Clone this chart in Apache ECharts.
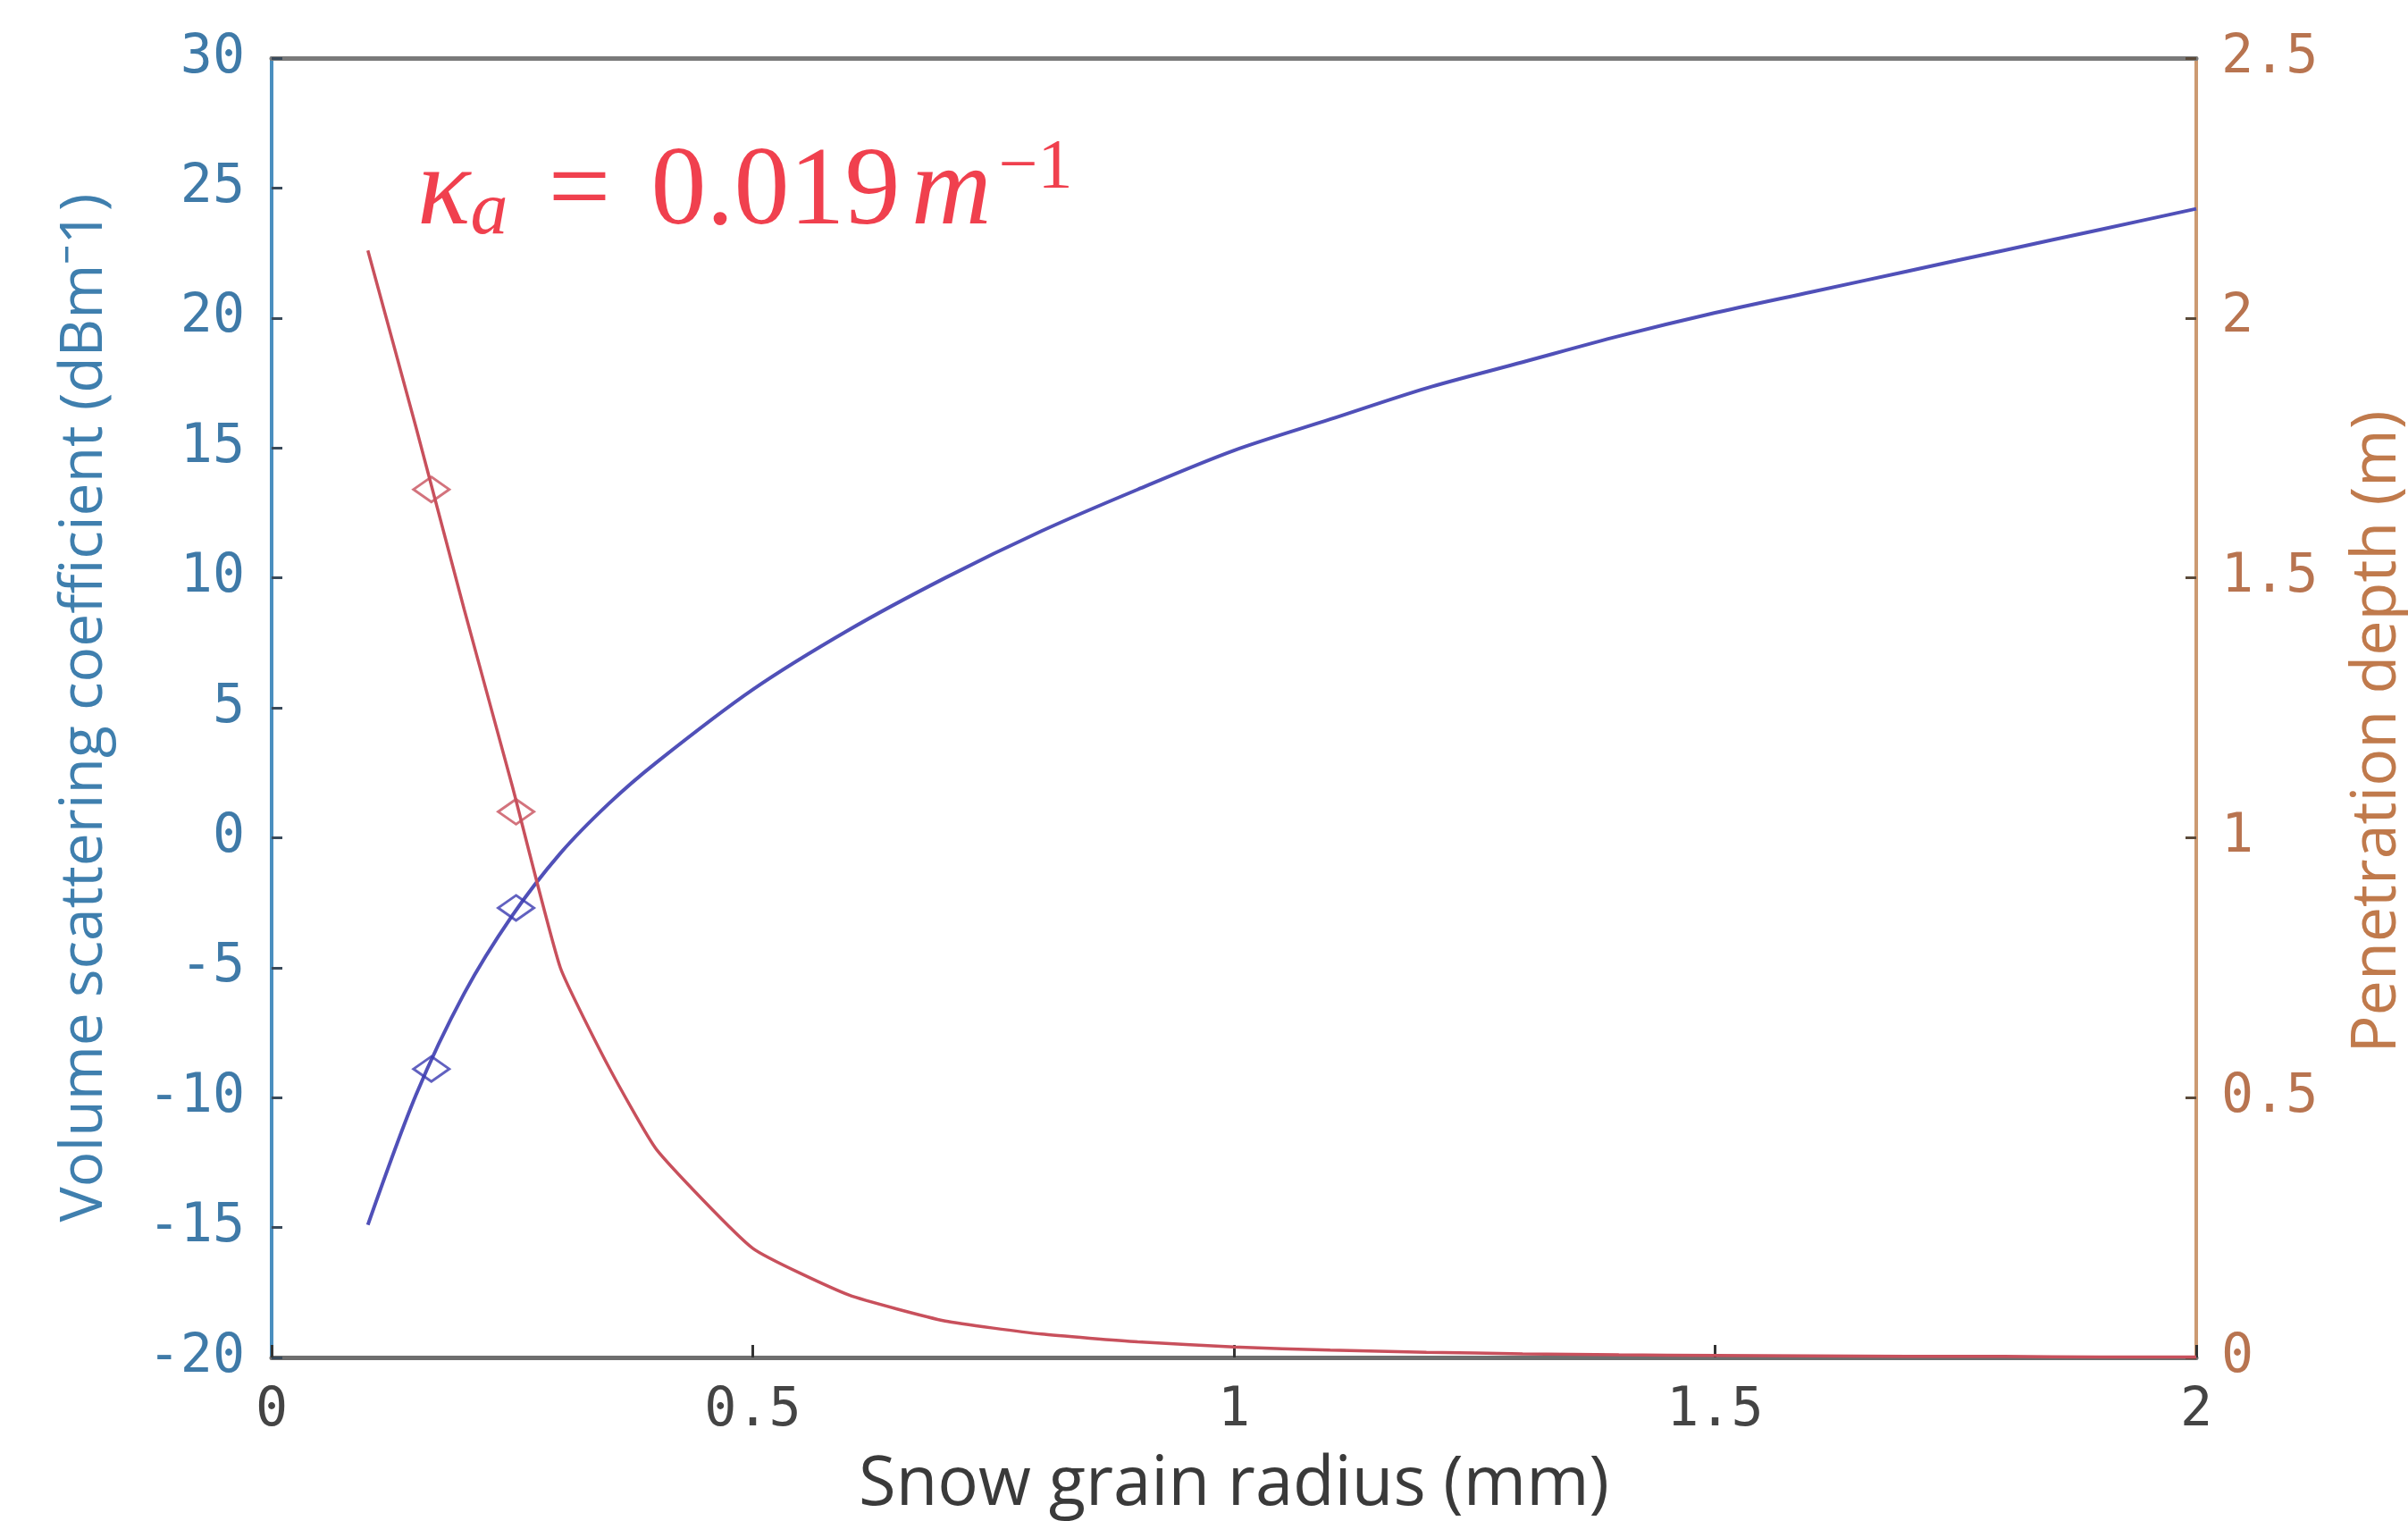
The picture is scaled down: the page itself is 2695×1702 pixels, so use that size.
<!DOCTYPE html>
<html>
<head>
<meta charset="utf-8">
<title>Snow grain radius vs scattering and penetration depth</title>
<script src="https://cdn.jsdelivr.net/npm/echarts@6/dist/echarts.min.js"></script>
<style>
  html, body { margin: 0; padding: 0; background: #ffffff; width: 100%; height: 100%; overflow: hidden; }
  #chart { width: 100vw; height: 100vh; }
</style>
</head>
<body>
<div id="chart"></div>
<script>
// Snow grain radius (mm)
const radius = [0.1, 0.15, 0.2, 0.25, 0.3, 0.35, 0.4, 0.5, 0.6, 0.7, 0.8, 0.9, 1.0,
                1.1, 1.2, 1.3, 1.4, 1.5, 1.6, 1.7, 1.8, 1.9, 2.0];
// Volume scattering coefficient (dB m^-1)
const scattering = [-14.9, -9.9, -6.0, -3.0, -0.6, 1.3, 2.9, 5.7, 8.0, 10.0, 11.8, 13.4, 14.9,
                    16.1, 17.3, 18.3, 19.3, 20.2, 21.0, 21.8, 22.6, 23.4, 24.2];
// Penetration depth (m)
const depth = [2.13, 1.79, 1.44, 1.10, 0.75, 0.56, 0.40, 0.21, 0.12, 0.07, 0.045, 0.03, 0.02,
               0.014, 0.01, 0.007, 0.005, 0.004, 0.003, 0.002, 0.002, 0.001, 0.001];
// Highlighted grain radii with their values on both curves
const markRadius = [0.166, 0.254];
const markScattering = [-8.9, -2.7];
const markDepth = [1.67, 1.05];

const xTicks = [0, 0.5, 1, 1.5, 2];

const pairs = (xs, ys) => xs.map((x, i) => [x, ys[i]]);

const tickFont = 'DejaVu Sans Mono';
const titleFont = 'Open Sans';
const chart = echarts.init(document.getElementById('chart'));

chart.setOption({
  backgroundColor: '#ffffff',
  animation: false,
  grid: { left: 304, right: 237, top: 65, bottom: 183, containLabel: false, outerBoundsMode: 'none' },
  xAxis: [{
    type: 'value', min: xTicks[0], max: xTicks[xTicks.length - 1], interval: 0.5,
    position: 'bottom',
    name: 'Snow grain radius (mm)', nameLocation: 'middle', nameGap: 105,
    nameTextStyle: { fontFamily: titleFont, fontSize: 76, color: '#3a3a3a' },
    axisLine: { show: true, onZero: false, lineStyle: { color: '#6e6e6e', width: 5 } },
    axisTick: { show: true, inside: true, length: 14, lineStyle: { color: '#333', width: 3 } },
    axisLabel: { fontFamily: tickFont, fontSize: 60, color: '#444', margin: 30 },
    splitLine: { show: false }
  }, {
    type: 'value', min: 0, max: 2, position: 'top',
    axisLine: { show: true, onZero: false, lineStyle: { color: '#7a7a7a', width: 5 } },
    axisTick: { show: false }, axisLabel: { show: false }, splitLine: { show: false }
  }],
  yAxis: [{
    type: 'value', min: -20, max: 30, interval: 5, position: 'left',
    name: 'Volume scattering coefficient (dBm\u207B1)', nameLocation: 'middle', nameGap: 176,
    nameTextStyle: { fontFamily: titleFont, fontSize: 66, color: '#3f7fae' },
    axisLine: { show: true, onZero: false, lineStyle: { color: '#4a8fbf', width: 4 } },
    axisTick: { show: true, inside: true, length: 12, lineStyle: { color: '#3a4a5a', width: 3 } },
    axisLabel: { fontFamily: tickFont, fontSize: 60, color: '#3f7aa8', margin: 30 },
    splitLine: { show: false }
  }, {
    type: 'value', min: 0, max: 2.5, interval: 0.5, position: 'right',
    name: 'Penetration depth (m)', nameLocation: 'middle', nameGap: 168, nameRotate: 90,
    nameTextStyle: { fontFamily: titleFont, fontSize: 70, color: '#c07a4c', padding: [0, 54, 0, 0] },
    axisLine: { show: true, onZero: false, lineStyle: { color: '#cc9a72', width: 4 } },
    axisTick: { show: true, inside: true, length: 12, lineStyle: { color: '#5a4a3a', width: 3 } },
    axisLabel: { fontFamily: tickFont, fontSize: 60, color: '#b87450', margin: 28 },
    splitLine: { show: false }
  }],
  series: [{
    name: 'Volume scattering coefficient',
    type: 'line', xAxisIndex: 0, yAxisIndex: 0,
    data: pairs(radius, scattering),
    smooth: 0.3, showSymbol: false,
    lineStyle: { color: '#5050b8', width: 4 }, z: 3
  }, {
    name: 'Penetration depth',
    type: 'line', xAxisIndex: 0, yAxisIndex: 1,
    data: pairs(radius, depth),
    smooth: 0.15, showSymbol: false,
    lineStyle: { color: '#c8505c', width: 3.5 }, z: 4
  }, {
    name: 'Scattering markers',
    type: 'scatter', xAxisIndex: 0, yAxisIndex: 0,
    data: pairs(markRadius, markScattering),
    symbol: 'diamond', symbolSize: [40, 28],
    itemStyle: { color: 'rgba(255,255,255,0)', borderColor: '#3a3ab0', borderWidth: 3 }, z: 5
  }, {
    name: 'Depth markers',
    type: 'scatter', xAxisIndex: 0, yAxisIndex: 1,
    data: pairs(markRadius, markDepth),
    symbol: 'diamond', symbolSize: [40, 28],
    itemStyle: { color: 'rgba(255,255,255,0)', borderColor: '#c8505c', borderWidth: 3 }, z: 5
  }],
  graphic: [{
    type: 'text', left: 467, top: 150, z: 10,
    style: {
      text: '{k|\u03BA}{s|a}{e| = }{n|0.019}{sp| }{m|m}{p|\u22121}',
      rich: {
        k: { fontFamily: 'Liberation Serif', fontStyle: 'italic', fontSize: 124, fill: '#f0404e' },
        s: { fontFamily: 'Liberation Serif', fontStyle: 'italic', fontSize: 84, fill: '#f0404e', padding: [44, 0, 0, 0] },
        e: { fontFamily: 'Liberation Serif', fontSize: 124, fill: '#f0404e', padding: [0, 14, 0, 14] },
        n: { fontFamily: 'Liberation Serif', fontSize: 124, fill: '#f0404e' },
        sp: { fontFamily: 'Liberation Serif', fontSize: 50, fill: '#f0404e' },
        m: { fontFamily: 'Liberation Serif', fontStyle: 'italic', fontSize: 124, fill: '#f0404e' },
        p: { fontFamily: 'Liberation Serif', fontSize: 78, fill: '#f0404e', padding: [0, 0, 56, 8] }
      }
    }
  }]
});
</script>
</body>
</html>
